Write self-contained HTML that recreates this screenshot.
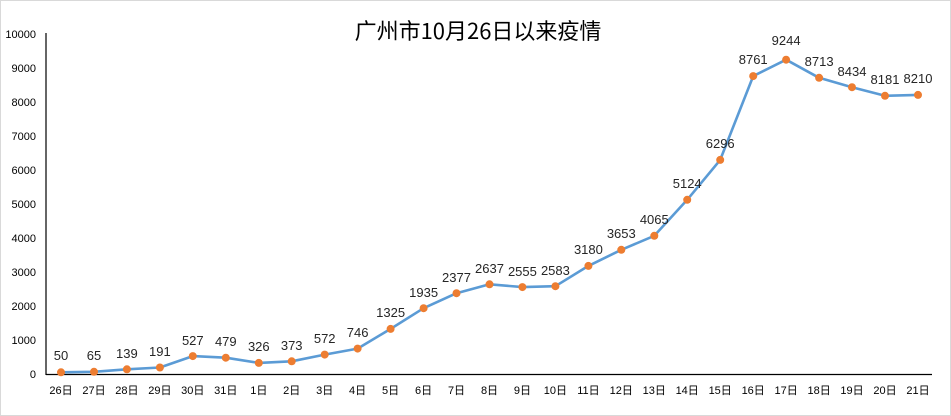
<!DOCTYPE html>
<html><head><meta charset="utf-8"><style>
html,body{margin:0;padding:0;background:#fff}
svg{display:block}
</style></head><body>
<svg width="951" height="416" xmlns="http://www.w3.org/2000/svg" font-family="Liberation Sans, Noto Sans CJK SC, sans-serif">
<rect x="0.5" y="0.5" width="950" height="415" fill="#fff" stroke="#d9d9d9"/>
<text x="478" y="39" font-size="22" text-anchor="middle" fill="#000" font-family="Noto Sans CJK SC, sans-serif">广州市10月26日以来疫情</text>
<g font-size="11" fill="#000" text-anchor="end">
<text x="36" y="378">0</text><text x="36" y="344">1000</text><text x="36" y="310">2000</text><text x="36" y="276">3000</text><text x="36" y="242">4000</text><text x="36" y="208">5000</text><text x="36" y="174">6000</text><text x="36" y="140">7000</text><text x="36" y="106">8000</text><text x="36" y="72">9000</text><text x="36" y="38">10000</text>
</g>
<line x1="46" y1="33" x2="46" y2="375" stroke="#000" stroke-width="1.2"/>
<line x1="46" y1="374.5" x2="932" y2="374.5" stroke="#000" stroke-width="1.2"/>
<polyline fill="none" stroke="#5B9BD5" stroke-width="2.6" stroke-linejoin="round" points="61,372.3 94,371.8 126.9,369.3 159.9,367.5 192.8,356.1 225.8,357.7 258.8,362.9 291.7,361.3 324.7,354.6 357.6,348.6 390.6,328.9 423.6,308.2 456.5,293.2 489.5,284.3 522.4,287.1 555.4,286.2 588.4,265.9 621.3,249.8 654.3,235.8 687.2,199.8 720.2,159.9 753.2,76.1 786.1,59.7 819.1,77.8 852,87.2 885,95.8 918,94.9"/>
<g fill="#ED7D31">
<circle cx="61" cy="372.3" r="4"/><circle cx="94" cy="371.8" r="4"/><circle cx="126.9" cy="369.3" r="4"/><circle cx="159.9" cy="367.5" r="4"/><circle cx="192.8" cy="356.1" r="4"/><circle cx="225.8" cy="357.7" r="4"/><circle cx="258.8" cy="362.9" r="4"/><circle cx="291.7" cy="361.3" r="4"/><circle cx="324.7" cy="354.6" r="4"/><circle cx="357.6" cy="348.6" r="4"/><circle cx="390.6" cy="328.9" r="4"/><circle cx="423.6" cy="308.2" r="4"/><circle cx="456.5" cy="293.2" r="4"/><circle cx="489.5" cy="284.3" r="4"/><circle cx="522.4" cy="287.1" r="4"/><circle cx="555.4" cy="286.2" r="4"/><circle cx="588.4" cy="265.9" r="4"/><circle cx="621.3" cy="249.8" r="4"/><circle cx="654.3" cy="235.8" r="4"/><circle cx="687.2" cy="199.8" r="4"/><circle cx="720.2" cy="159.9" r="4"/><circle cx="753.2" cy="76.1" r="4"/><circle cx="786.1" cy="59.7" r="4"/><circle cx="819.1" cy="77.8" r="4"/><circle cx="852" cy="87.2" r="4"/><circle cx="885" cy="95.8" r="4"/><circle cx="918" cy="94.9" r="4"/>
</g>
<g font-size="13" fill="#262626" text-anchor="middle">
<text x="61" y="360">50</text><text x="94" y="360">65</text><text x="126.9" y="358">139</text><text x="159.9" y="356">191</text><text x="192.8" y="345">527</text><text x="225.8" y="346">479</text><text x="258.8" y="351">326</text><text x="291.7" y="350">373</text><text x="324.7" y="343">572</text><text x="357.6" y="337">746</text><text x="390.6" y="317">1325</text><text x="423.6" y="297">1935</text><text x="456.5" y="282">2377</text><text x="489.5" y="273">2637</text><text x="522.4" y="276">2555</text><text x="555.4" y="275">2583</text><text x="588.4" y="254">3180</text><text x="621.3" y="238">3653</text><text x="654.3" y="224">4065</text><text x="687.2" y="188">5124</text><text x="720.2" y="148">6296</text><text x="753.2" y="64">8761</text><text x="786.1" y="45">9244</text><text x="819.1" y="66">8713</text><text x="852" y="76">8434</text><text x="885" y="84">8181</text><text x="918" y="83">8210</text>
</g>
<g font-size="11" fill="#000" text-anchor="middle" font-family="Liberation Sans, Noto Sans CJK SC, sans-serif">
<text x="61" y="394">26日</text><text x="94" y="394">27日</text><text x="126.9" y="394">28日</text><text x="159.9" y="394">29日</text><text x="192.8" y="394">30日</text><text x="225.8" y="394">31日</text><text x="258.8" y="394">1日</text><text x="291.7" y="394">2日</text><text x="324.7" y="394">3日</text><text x="357.6" y="394">4日</text><text x="390.6" y="394">5日</text><text x="423.6" y="394">6日</text><text x="456.5" y="394">7日</text><text x="489.5" y="394">8日</text><text x="522.4" y="394">9日</text><text x="555.4" y="394">10日</text><text x="588.4" y="394">11日</text><text x="621.3" y="394">12日</text><text x="654.3" y="394">13日</text><text x="687.2" y="394">14日</text><text x="720.2" y="394">15日</text><text x="753.2" y="394">16日</text><text x="786.1" y="394">17日</text><text x="819.1" y="394">18日</text><text x="852" y="394">19日</text><text x="885" y="394">20日</text><text x="918" y="394">21日</text>
</g>
</svg>
</body></html>
